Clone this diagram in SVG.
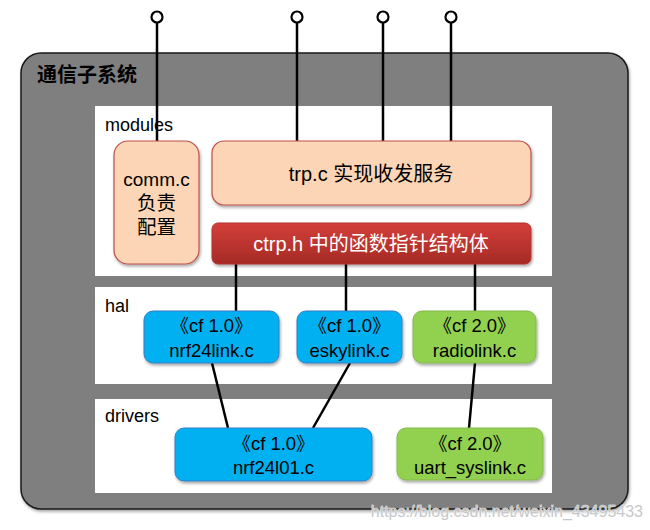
<svg xmlns="http://www.w3.org/2000/svg" width="650" height="530" viewBox="0 0 650 530">
<style>
text{font-family:"Liberation Sans","Noto Sans CJK SC",sans-serif;fill:#000}
.lbl{font-size:18px}
.t{font-size:18.5px;text-anchor:middle}
.pch{fill:#FBD5B5;stroke:#C0504D;stroke-width:1.2}
.blu{fill:#00B0F0;stroke:#3C7CC0;stroke-width:1}
.grn{fill:#92D050;stroke:#86B84C;stroke-width:1}
.panel{fill:#fff}
.ln{stroke:#000;stroke-width:2.5;fill:none}
</style>
<defs>
<linearGradient id="red" x1="0" y1="0" x2="0" y2="1">
<stop offset="0" stop-color="#D43F3A"/>
<stop offset="1" stop-color="#A52A26"/>
</linearGradient>
<filter id="sh" x="-10%" y="-10%" width="130%" height="140%">
<feDropShadow dx="1" dy="2" stdDeviation="1.5" flood-color="#000" flood-opacity="0.35"/>
</filter>
</defs>
<g id="subsystem">
<rect x="21" y="53" width="607" height="456" rx="20" fill="#7F7F7F" stroke="#1a1a1a" stroke-width="1.5" filter="url(#sh)"/>
<text x="37" y="82" style="font-size:20px;font-weight:bold">通信子系统</text>
</g>
<g id="panels">
<rect class="panel" x="95" y="106" width="457" height="170"/>
<text class="lbl" x="105" y="131">modules</text>
<rect class="panel" x="95" y="287" width="457" height="97"/>
<text class="lbl" x="105" y="312">hal</text>
<rect class="panel" x="95" y="399" width="457" height="94"/>
<text class="lbl" x="105" y="422">drivers</text>
</g>
<g id="connectors">
<line class="ln" x1="157" y1="23" x2="157" y2="141"/>
<line class="ln" x1="297" y1="23" x2="297" y2="141"/>
<line class="ln" x1="383" y1="23" x2="383" y2="141"/>
<line class="ln" x1="451" y1="23" x2="451" y2="141"/>
<circle cx="157" cy="17" r="5.5" fill="#fff" stroke="#000" stroke-width="2.2"/>
<circle cx="297" cy="17" r="5.5" fill="#fff" stroke="#000" stroke-width="2.2"/>
<circle cx="383" cy="17" r="5.5" fill="#fff" stroke="#000" stroke-width="2.2"/>
<circle cx="451" cy="17" r="5.5" fill="#fff" stroke="#000" stroke-width="2.2"/>
<line class="ln" x1="236" y1="264" x2="236" y2="311"/>
<line class="ln" x1="346" y1="264" x2="346" y2="311"/>
<line class="ln" x1="475" y1="264" x2="475" y2="311"/>
<line class="ln" x1="212" y1="363" x2="228" y2="428"/>
<line class="ln" x1="350" y1="363" x2="313" y2="428"/>
<line class="ln" x1="475" y1="363" x2="469" y2="428"/>
</g>
<g id="comm">
<rect class="pch" x="114" y="141" width="85" height="123" rx="14" filter="url(#sh)"/>
<text class="t" x="156.5" y="186" style="font-size:19px">comm.c</text>
<text class="t" x="156.5" y="210" style="font-size:19.5px">负责</text>
<text class="t" x="156.5" y="234" style="font-size:19.5px">配置</text>
</g>
<g id="trp">
<rect class="pch" x="212" y="141" width="319" height="64" rx="12" filter="url(#sh)"/>
<text class="t" x="371" y="181" style="font-size:20px">trp.c  实现收发服务</text>
</g>
<g id="ctrp">
<rect x="212" y="223" width="319" height="41" rx="6" fill="url(#red)" stroke="#B23530" stroke-width="1" filter="url(#sh)"/>
<text class="t" x="371" y="251" style="font-size:20px;fill:#fff">ctrp.h 中的函数指针结构体</text>
</g>
<g id="nrf24link">
<rect class="blu" x="144" y="311" width="135" height="52" rx="9" filter="url(#sh)"/>
<text class="t" x="211.5" y="332">《cf 1.0》</text>
<text class="t" x="211.5" y="357">nrf24link.c</text>
</g>
<g id="eskylink">
<rect class="blu" x="297" y="311" width="105" height="52" rx="9" filter="url(#sh)"/>
<text class="t" x="349.5" y="332">《cf 1.0》</text>
<text class="t" x="349.5" y="357">eskylink.c</text>
</g>
<g id="radiolink">
<rect class="grn" x="413" y="311" width="123" height="52" rx="9" filter="url(#sh)"/>
<text class="t" x="474.5" y="332">《cf 2.0》</text>
<text class="t" x="474.5" y="357">radiolink.c</text>
</g>
<g id="nrf24l01">
<rect class="blu" x="175" y="428" width="197" height="53" rx="9" filter="url(#sh)"/>
<text class="t" x="273.5" y="450">《cf 1.0》</text>
<text class="t" x="273.5" y="474">nrf24l01.c</text>
</g>
<g id="uart_syslink">
<rect class="grn" x="397" y="428" width="146" height="52" rx="9" filter="url(#sh)"/>
<text class="t" x="470" y="450">《cf 2.0》</text>
<text class="t" x="470" y="474">uart_syslink.c</text>
</g>
<text x="643" y="517" text-anchor="end" style="font-size:16px;fill:#c8c8c8;stroke:#fff;stroke-width:0.6;paint-order:stroke">https://blog.csdn.net/weixin_43495433</text>
</svg>
